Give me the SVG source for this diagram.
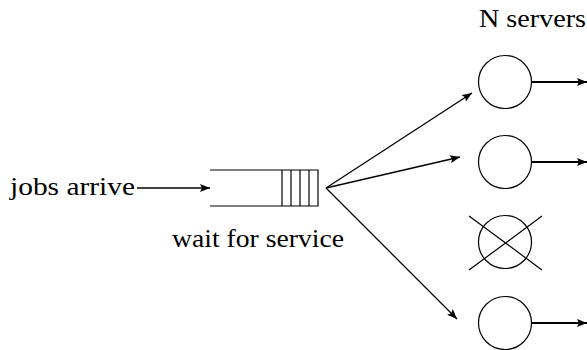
<svg xmlns="http://www.w3.org/2000/svg" width="587" height="350" viewBox="0 0 587 350">
  <style>
    .lbl { font-family: 'Liberation Serif', 'DejaVu Serif', serif; font-size: 25px; fill: #000; }
    .edge { stroke: #000; stroke-width: 1.3; fill: none; marker-end: url(#head); }
    .thick { stroke-width: 1.8; }
    .shape { stroke: #000; stroke-width: 1.2; fill: none; }
  </style>
  <defs>
    <!-- small filled arrowhead with a notched back -->
    <marker id="head" viewBox="0 0 10 8" refX="10" refY="4" markerWidth="10" markerHeight="8" markerUnits="userSpaceOnUse" orient="auto">
      <path d="M0,0 L10,4 L0,8 L2,4 Z" fill="#000"/>
    </marker>
  </defs>

  <g id="source">
    <text class="lbl" x="10" y="195" textLength="125" lengthAdjust="spacingAndGlyphs">jobs arrive</text>
  </g>

  <!-- waiting line: open box with filled slots at the head -->
  <g id="queue">
    <path class="shape" d="M210,170 H318 V206 H210"/>
    <path class="shape" d="M282,170 V206 M291,170 V206 M300,170 V206 M309,170 V206"/>
    <text class="lbl" x="172" y="247" textLength="172" lengthAdjust="spacingAndGlyphs">wait for service</text>
  </g>

  <g id="servers-label">
    <text class="lbl" x="479" y="27" textLength="107" lengthAdjust="spacingAndGlyphs">N servers</text>
  </g>

  <g id="server1">
    <circle class="shape" cx="505" cy="82" r="26.5"/>
  </g>
  <g id="server2">
    <circle class="shape" cx="505" cy="162" r="26.5"/>
  </g>
  <g id="server3">
    <circle class="shape" cx="505" cy="242" r="26.5"/>
    <path class="shape" d="M469,216 L542,270 M469,270 L542,216"/>
  </g>
  <g id="server4">
    <circle class="shape" cx="505" cy="323" r="26.5"/>
  </g>

  <g id="connectors">
    <line class="edge" x1="137" y1="188" x2="210" y2="188"/>
    <line class="edge" x1="326" y1="188" x2="472" y2="93"/>
    <line class="edge" x1="326" y1="188" x2="460" y2="157"/>
    <line class="edge" x1="326" y1="188" x2="457" y2="319"/>
    <line class="edge thick" x1="531.5" y1="82" x2="587" y2="82"/>
    <line class="edge thick" x1="531.5" y1="162" x2="587" y2="162"/>
    <line class="edge thick" x1="531.5" y1="323" x2="587" y2="323"/>
  </g>
</svg>
